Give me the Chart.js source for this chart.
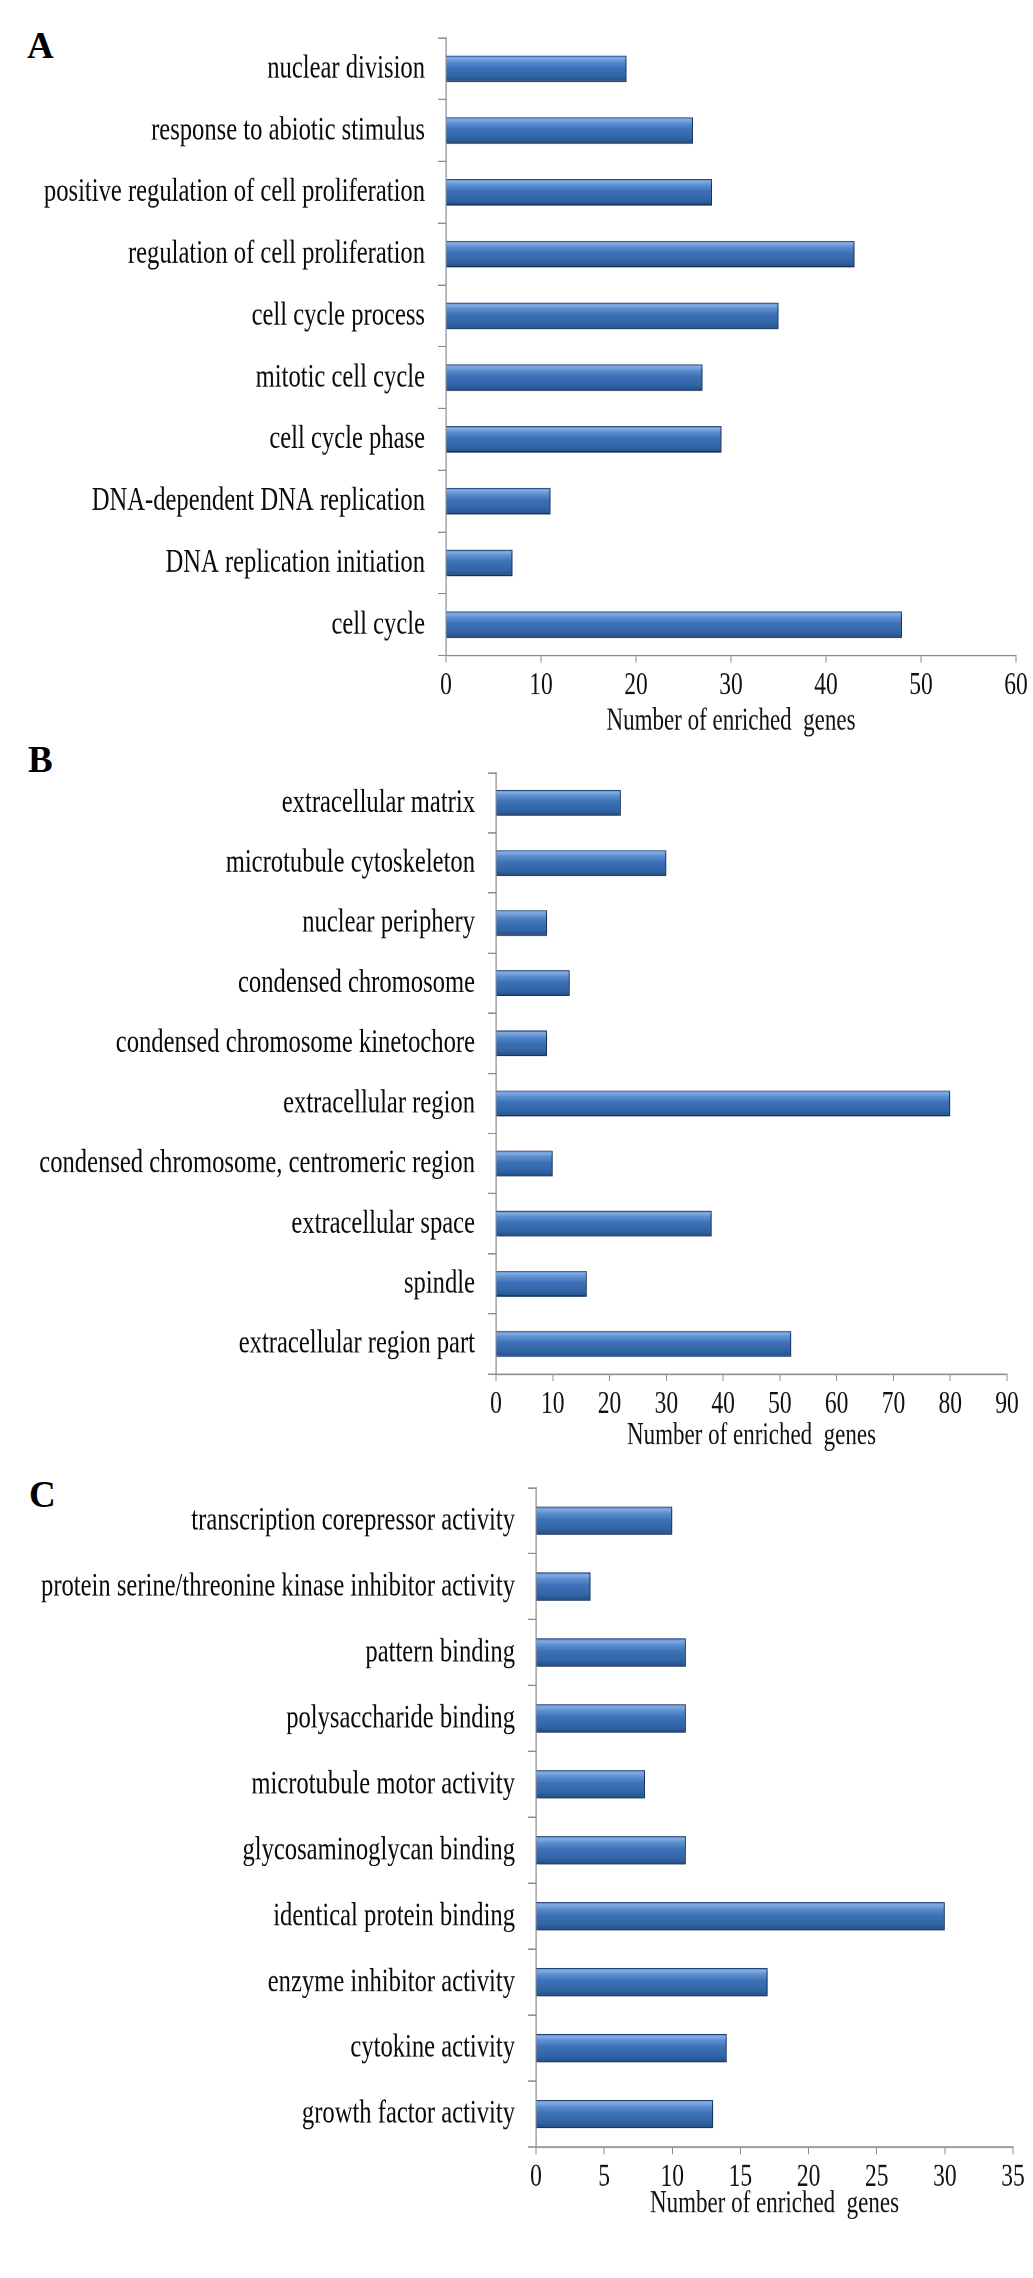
<!DOCTYPE html>
<html><head><meta charset="utf-8">
<script src="https://cdn.jsdelivr.net/npm/chart.js@4.4.1/dist/chart.umd.min.js"></script>
<style>
html,body{margin:0;padding:0;background:#fff;}
#page{position:relative;width:1033px;height:2278px;overflow:hidden;background:#fff;}
.panel{position:absolute;left:0;width:1033px;transform-origin:0 0;}
.letter{position:absolute;font-family:'Liberation Serif','Times New Roman',serif;font-weight:bold;font-size:37px;line-height:1;color:#000;}
</style></head><body>
<div id="page">
  <div class="letter" style="left:27px;top:27px">A</div>
  <div class="letter" style="left:28px;top:741px">B</div>
  <div class="letter" style="left:29px;top:1476px">C</div>
  <div class="panel" id="pA"><canvas id="cA"></canvas></div>
  <div class="panel" id="pB"><canvas id="cB"></canvas></div>
  <div class="panel" id="pC"><canvas id="cC"></canvas></div>
</div>
<script>
// ---- data ----
const labelsA = ['nuclear division','response to abiotic stimulus','positive regulation of cell proliferation','regulation of cell proliferation','cell cycle process','mitotic cell cycle','cell cycle phase','DNA-dependent DNA replication','DNA replication initiation','cell cycle'];
const valuesA = [19, 26, 28, 43, 35, 27, 29, 11, 7, 48];
const axisMaxA = 60, stepA = 10;

const labelsB = ['extracellular matrix','microtubule cytoskeleton','nuclear periphery','condensed chromosome','condensed chromosome kinetochore','extracellular region','condensed chromosome, centromeric region','extracellular space','spindle','extracellular region part'];
const valuesB = [22, 30, 9, 13, 9, 80, 10, 38, 16, 52];
const axisMaxB = 90, stepB = 10;

const labelsC = ['transcription corepressor activity','protein serine/threonine kinase inhibitor activity','pattern binding','polysaccharide binding','microtubule motor activity','glycosaminoglycan binding','identical protein binding','enzyme inhibitor activity','cytokine activity','growth factor activity'];
const valuesC = [10, 4, 11, 11, 8, 11, 30, 17, 14, 13];
const axisMaxC = 35, stepC = 5;

const axisTitle = 'Number of enriched  genes';

// ---- style ----
const S = 1.36;               // vertical stretch of the original figure
const FONT = "'Liberation Serif', 'Times New Roman', serif";
const LABEL_SIZE = 24.6, TICK_SIZE = 23.5, TITLE_SIZE = 23;
const BAR_PCT = 0.43;
const AXIS_COLOR = '#8C8C8C';

function barFill(c) {
  const chart = c.chart;
  const ys = chart.scales && chart.scales.y;
  if (c.type !== 'data' || !ys || !ys.height) return '#3C70B7';
  const n = chart.data.labels.length;
  const mid = ys.getPixelForValue(c.dataIndex);
  const half = ys.height / n * BAR_PCT / 2;
  const g = chart.ctx.createLinearGradient(0, mid - half, 0, mid + half);
  g.addColorStop(0.00, '#3A6DB3');
  g.addColorStop(0.09, '#84AEE2');
  g.addColorStop(0.24, '#5C8ECF');
  g.addColorStop(0.46, '#3D72B9');
  g.addColorStop(0.80, '#3164A5');
  g.addColorStop(0.93, '#27548F');
  g.addColorStop(1.00, '#1B3E70');
  return g;
}

const shadowPlugin = {
  id: 'barShadow',
  beforeDatasetsDraw(chart) {
    const x = chart.ctx;
    x.save();
    x.shadowColor = 'rgba(0,0,0,0.4)';
    x.shadowBlur = 5;
    x.shadowOffsetX = 2;
    x.shadowOffsetY = 3;
  },
  afterDatasetsDraw(chart) { chart.ctx.restore(); }
};

// geometry given in page pixels (after stretch)
function makeChart(panelId, id, labels, values, axisMax, step, g) {
  const lh = TITLE_SIZE * 1.2;
  const plotTop = (g.top - g.T) / S;
  const plotBottom = (g.bottom - g.T) / S;
  const canvasH = (g.titleY - g.T) / S + lh / 2;
  const panel = document.getElementById(panelId);
  panel.style.top = g.T + 'px';
  panel.style.height = canvasH + 'px';
  panel.style.transform = 'scaleY(' + S + ')';
  return new Chart(document.getElementById(id), {
    type: 'bar',
    data: {
      labels: labels,
      datasets: [{
        data: values,
        backgroundColor: barFill,
        borderColor: '#22467C',
        borderWidth: {top: 0.8, left: 0, right: 1.2, bottom: 1},
        borderSkipped: false,
        barPercentage: BAR_PCT,
        categoryPercentage: 1
      }]
    },
    options: {
      indexAxis: 'y',
      responsive: true,
      maintainAspectRatio: false,
      animation: false,
      devicePixelRatio: 2,
      layout: {padding: {top: plotTop, right: 1033 - g.right, bottom: 0, left: 0}},
      plugins: {legend: {display: false}, tooltip: {enabled: false}},
      scales: {
        y: {
          grid: {display: true, drawOnChartArea: false, drawTicks: true, tickLength: 8, color: AXIS_COLOR, lineWidth: 1},
          border: {display: true, color: AXIS_COLOR, width: 1.2},
          ticks: {font: {family: FONT, size: LABEL_SIZE}, color: '#0A0A0A', padding: 13},
          afterFit(s) { s.width = g.axisX; }
        },
        x: {
          min: 0, max: axisMax,
          grid: {display: true, drawOnChartArea: false, drawTicks: true, tickLength: 5.2, color: AXIS_COLOR, lineWidth: 1},
          border: {display: true, color: AXIS_COLOR, width: 1.1},
          ticks: {stepSize: step, font: {family: FONT, size: TICK_SIZE}, color: '#111', padding: 3, maxRotation: 0},
          title: {display: true, text: axisTitle, font: {family: FONT, size: TITLE_SIZE}, color: '#111', padding: 0},
          afterFit(s) { s.height = canvasH - plotBottom; }
        }
      }
    },
    plugins: [shadowPlugin]
  });
}

makeChart('pA', 'cA', labelsA, valuesA, axisMaxA, stepA, {T: 0,    top: 30,   bottom: 655,  titleY: 721,  axisX: 446, right: 1016});
makeChart('pB', 'cB', labelsB, valuesB, axisMaxB, stepB, {T: 735,  top: 758,  bottom: 1374, titleY: 1436, axisX: 496, right: 1007});
makeChart('pC', 'cC', labelsC, valuesC, axisMaxC, stepC, {T: 1450, top: 1468, bottom: 2147, titleY: 2204, axisX: 536, right: 1013});
</script>
</body></html>
